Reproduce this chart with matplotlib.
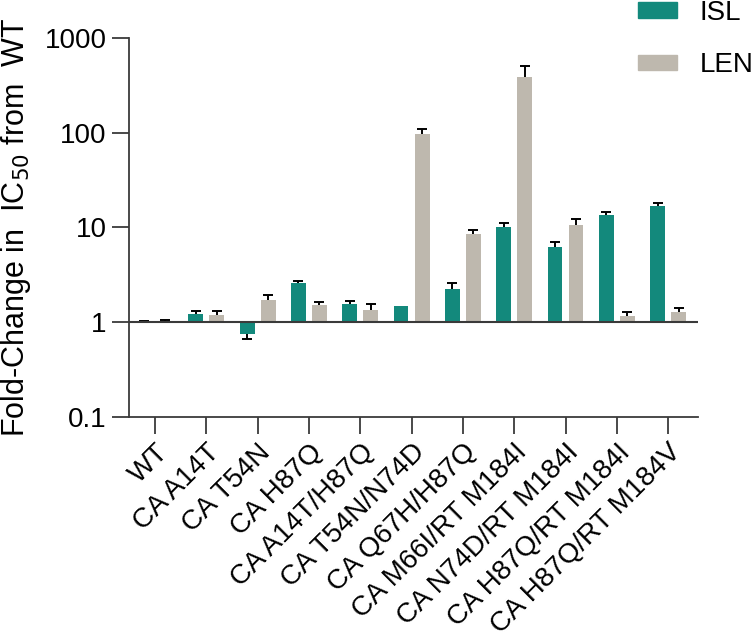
import numpy as np
import matplotlib
matplotlib.use("Agg")
import matplotlib.pyplot as plt
from matplotlib.patches import Patch

plt.rcParams['font.family'] = ['Liberation Sans', 'DejaVu Sans']

# Data (fold change in IC50 vs WT)
mutants = ["WT", "CA A14T", "CA T54N", "CA H87Q", "CA A14T/H87Q", "CA T54N/N74D",
           "CA Q67H/H87Q", "CA M66I/RT M184I", "CA N74D/RT M184I",
           "CA H87Q/RT M184I", "CA H87Q/RT M184V"]
isl = [1.0, 1.21, 0.76, 2.59, 1.55, 1.48, 2.22, 10.0, 6.2, 13.5, 16.9]
isl_err = [0.03, 0.09, 0.09, 0.13, 0.13, 0.0, 0.35, 1.2, 0.8, 1.1, 1.3]
len_fc = [1.0, 1.19, 1.72, 1.51, 1.35, 97, 8.6, 392, 10.6, 1.16, 1.28]
len_err = [0.06, 0.12, 0.21, 0.12, 0.19, 12, 0.9, 120, 1.8, 0.13, 0.12]

teal = '#13897C'
beige = '#BEB8AE'
axcol = '#3a3a3a'

fig = plt.figure(figsize=(7.54, 6.44), dpi=100)
ax = fig.add_axes([0.171, 0.3525, 0.755, 0.5885])

x = np.arange(len(mutants))
off = 0.205
w = 0.29


def draw(xpos, vals, errs, color):
    vals = np.array(vals)
    errs = np.array(errs)
    ax.bar(xpos, vals - 1, bottom=1, width=w, color=color, zorder=2)
    # one-sided error bars: away from the baseline at 1, single cap
    upm = (vals >= 1) & (errs > 0)
    dnm = (vals < 1) & (errs > 0)
    if upm.any():
        _, caps, _ = ax.errorbar(xpos[upm], vals[upm], yerr=[np.zeros(upm.sum()), errs[upm]],
                                 fmt='none', ecolor='black', elinewidth=1.4, capsize=3.8,
                                 capthick=1.4, zorder=3)
        caps[0].set_visible(False)
    if dnm.any():
        _, caps, _ = ax.errorbar(xpos[dnm], vals[dnm], yerr=[errs[dnm], np.zeros(dnm.sum())],
                                 fmt='none', ecolor='black', elinewidth=1.4, capsize=3.8,
                                 capthick=1.4, zorder=3)
        caps[1].set_visible(False)


draw(x - off, isl, isl_err, teal)
draw(x + off, len_fc, len_err, beige)

ax.set_yscale('log')
ax.set_ylim(0.1, 1000)
ax.set_xlim(-0.507, 10.585)
ax.axhline(1, color=axcol, lw=1.5, zorder=4)

ax.spines['top'].set_visible(False)
ax.spines['right'].set_visible(False)
for s in ['left', 'bottom']:
    ax.spines[s].set_color(axcol)
    ax.spines[s].set_linewidth(1.3)

ax.set_yticks([0.1, 1, 10, 100, 1000])
ax.set_yticklabels(['0.1', '1', '10', '100', '1000'])
ax.yaxis.set_minor_locator(matplotlib.ticker.NullLocator())
ax.tick_params(axis='both', length=12, width=1.3, color=axcol, labelsize=20, pad=4)
ax.set_xticks(x)
ax.set_xticklabels(mutants, rotation=45, ha='right', rotation_mode='anchor', fontsize=20)

ax.set_ylabel('Fold-Change in  IC$_{50}$ from  WT', fontsize=22)
ax.yaxis.set_label_coords(-0.168, 0.5)

handles = [Patch(color=teal, label='ISL'), Patch(color=beige, label='LEN')]
fig.legend(handles=handles, loc='upper left', bbox_to_anchor=(0.846, 1.0),
           frameon=False, fontsize=20, handlelength=1.4, handleheight=0.5,
           labelspacing=0.95, borderpad=0.0, borderaxespad=0.0, handletextpad=0.83)

fig.savefig('out.png', dpi=100)
